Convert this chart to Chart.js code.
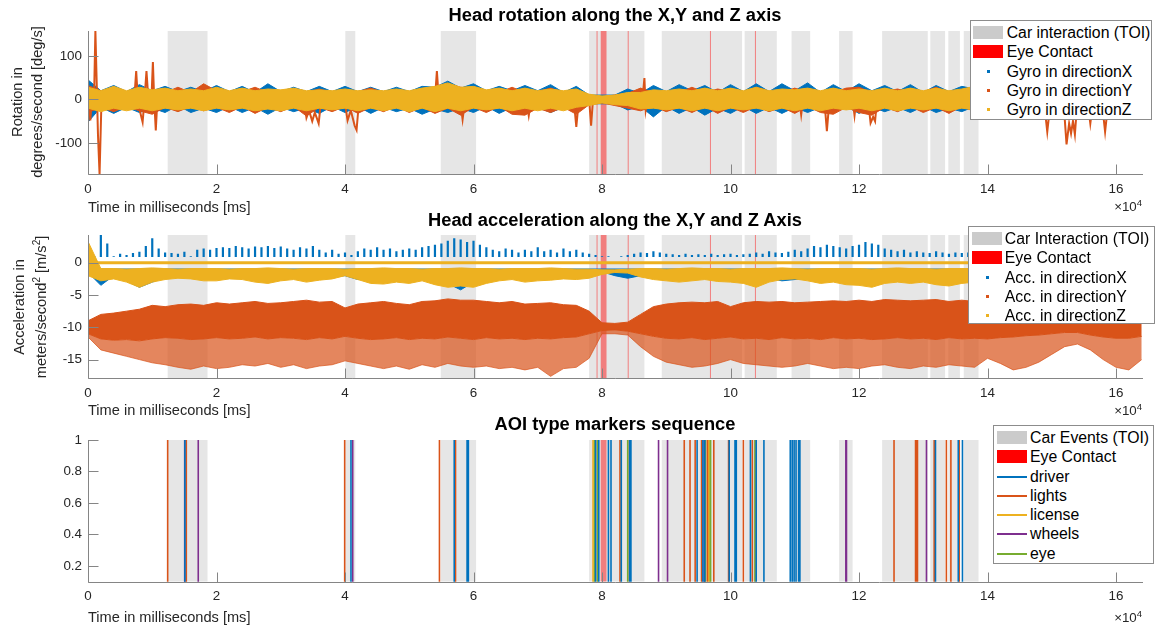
<!DOCTYPE html>
<html>
<head>
<meta charset="utf-8">
<title>Head rotation, acceleration and AOI markers</title>
<script src="https://cdn.jsdelivr.net/npm/chart.js@4.4.1/dist/chart.umd.min.js"></script>
<style>
  body { margin: 0; background: #fff; }
  #page { position: relative; width: 1161px; height: 626px; overflow: hidden; font-family: "Liberation Sans", Arial, Helvetica, sans-serif; color: #262626; }
  canvas { position: absolute; left: 0; }
  .title { position: absolute; left: 615px; transform: translate(-50%, -50%); font-size: 18.3px; font-weight: bold; color: #000; white-space: nowrap; }
  .xlabel { position: absolute; left: 88px; transform: translateY(-50%); font-size: 14.6px; white-space: nowrap; }
  .ylabel { position: absolute; transform: translate(-50%, -50%) rotate(-90deg); font-size: 14.6px; white-space: nowrap; }
  .ylabel sup { font-size: 10px; vertical-align: 6px; line-height: 0; }
  .exp { position: absolute; right: 19px; transform: translateY(-50%); font-size: 13.3px; white-space: nowrap; }
  .exp sup { font-size: 9.5px; vertical-align: 5px; line-height: 0; }
  .legend { position: absolute; background: #fff; border: 1px solid #8c8c8c; box-sizing: border-box; padding-top: 2px; }
  .legend .row { position: relative; height: 19.3px; line-height: 19.3px; font-size: 15.8px; color: #000; white-space: nowrap; }
  .legend .sw { position: absolute; }
</style>
</head>
<body>
<div id="page">
  <canvas id="gyroChart" width="1161" height="205" style="top:0px"></canvas>
  <canvas id="accChart" width="1161" height="205" style="top:205px"></canvas>
  <canvas id="aoiChart" width="1161" height="216" style="top:410px"></canvas>

  <div class="title" style="top:15px">Head rotation along the X,Y and Z axis</div>
  <div class="title" style="top:220px">Head acceleration along the X,Y and Z Axis</div>
  <div class="title" style="top:424px">AOI type markers sequence</div>

  <div class="ylabel" style="left:17px;top:102px">Rotation in</div>
  <div class="ylabel" style="left:37px;top:102px">degrees/second [deg/s]</div>
  <div class="ylabel" style="left:19px;top:307px">Acceleration in</div>
  <div class="ylabel" style="left:41px;top:307px">meters/second<sup>2</sup> [m/s<sup>2</sup>]</div>

  <div class="xlabel" style="top:207px">Time in milliseconds [ms]</div>
  <div class="xlabel" style="top:410px">Time in milliseconds [ms]</div>
  <div class="xlabel" style="top:617px">Time in milliseconds [ms]</div>

  <div class="exp" style="top:206px">&times;10<sup>4</sup></div>
  <div class="exp" style="top:410px">&times;10<sup>4</sup></div>
  <div class="exp" style="top:617px">&times;10<sup>4</sup></div>

  <div class="legend" id="gyroLegend" style="left:970px;top:20px;width:182px;height:100px"></div>
  <div class="legend" id="accLegend" style="left:968px;top:226px;width:187px;height:98px"></div>
  <div class="legend" id="aoiLegend" style="left:993px;top:425px;width:161px;height:139px"></div>
</div>

<script>
// ---- data (time in ms) ----
const timeTicks = [0, 20000, 40000, 60000, 80000, 100000, 120000, 140000, 160000];
const gyroTicks = [-100, 0, 100];
const accTicks = [-15, -10, -5, 0];
const aoiTicks = [0.2, 0.4, 0.6, 0.8, 1];

// Car interaction periods (TOI) and eye contact periods
const toiStart = [12400, 40050, 54900, 78000, 89300, 102200, 109500, 116900, 123600, 131100, 133900, 136300];
const toiEnd   = [18600, 41600, 60400, 86600, 101800, 107200, 112400, 119000, 130700, 133400, 135700, 138600];
const eyeStart = [79150, 79800, 84000, 96800, 103800];
const eyeEnd   = [79250, 80700, 84100, 96900, 103900];

// gyro envelopes, one value every 2000 ms from 0 to 164000 [deg/s]
const gyroXUpper = [45, 20, 32, 18, 34, 20, 30, 18, 28, 18,
  32, 18, 30, 16, 36, 18, 28, 18, 30, 18,
  30, 18, 28, 18, 28, 18, 30, 28, 42, 26,
  36, 20, 30, 20, 32, 20, 34, 16, 30, 10,
  10, 10, 24, 14, 32, 18, 34, 20, 32, 16,
  34, 18, 36, 18, 36, 20, 38, 16, 34, 18,
  36, 20, 32, 18, 34, 16, 32, 18, 30, 24,
  32, 16, 30, 18, 28, 18, 32, 16, 30, 20,
  30, 18, 26];
const gyroXLower = [-52, -18, -32, -18, -30, -20, -30, -14, -30, -20,
  -30, -16, -30, -18, -34, -18, -28, -20, -32, -16,
  -30, -16, -32, -18, -28, -20, -34, -22, -30, -20,
  -30, -16, -32, -18, -34, -18, -30, -18, -28, -10,
  -10, -10, -24, -16, -40, -16, -32, -18, -36, -20,
  -32, -16, -32, -18, -32, -18, -30, -18, -30, -16,
  -32, -18, -28, -18, -30, -16, -30, -20, -28, -16,
  -30, -16, -30, -18, -28, -18, -30, -18, -28, -18,
  -30, -18, -24];
const gyroYUpper = [32, 20, 18, 16, 22, 18, 16, 28, 16, 36,
  20, 16, 18, 28, 16, 18, 20, 16, 24, 16,
  16, 18, 26, 16, 18, 16, 20, 30, 36, 28,
  24, 18, 16, 28, 16, 18, 26, 16, 18, 10,
  6, 10, 14, 26, 16, 18, 16, 28, 16, 24,
  18, 16, 28, 18, 16, 26, 16, 18, 16, 26,
  28, 16, 18, 24, 16, 18, 28, 16, 18, 26,
  16, 18, 26, 16, 18, 24, 16, 18, 26, 16,
  18, 16, 14];
const gyroYLower = [-30, -18, -28, -16, -26, -34, -18, -28, -16, -26,
  -18, -30, -16, -32, -18, -28, -16, -38, -18, -28,
  -16, -32, -18, -28, -16, -30, -18, -32, -20, -36,
  -18, -30, -16, -34, -36, -20, -30, -18, -34, -12,
  -8, -14, -20, -26, -16, -28, -18, -30, -16, -32,
  -18, -30, -16, -28, -18, -32, -16, -30, -34, -18,
  -30, -36, -18, -28, -16, -30, -18, -32, -16, -28,
  -18, -30, -16, -32, -18, -28, -16, -30, -18, -28,
  -16, -28, -18];
const gyroZUpper = [28, 20, 30, 20, 28, 22, 26, 20, 24, 20,
  28, 20, 26, 20, 24, 22, 26, 20, 22, 20,
  24, 20, 22, 20, 24, 20, 26, 30, 38, 28,
  30, 22, 26, 20, 26, 20, 24, 20, 24, 12,
  8, 10, 16, 16, 22, 20, 24, 20, 26, 20,
  26, 20, 28, 20, 24, 22, 26, 20, 26, 20,
  24, 20, 26, 20, 26, 20, 26, 20, 24, 30,
  24, 20, 26, 20, 24, 20, 26, 20, 24, 20,
  24, 20, 20];
const gyroZLower = [-20, -28, -20, -26, -20, -26, -20, -24, -20, -26,
  -20, -24, -20, -26, -22, -26, -20, -26, -20, -24,
  -20, -26, -20, -26, -20, -28, -20, -28, -20, -26,
  -20, -24, -20, -26, -20, -26, -20, -26, -18, -14,
  -8, -12, -14, -22, -20, -24, -20, -26, -20, -26,
  -20, -24, -20, -26, -20, -26, -20, -26, -20, -24,
  -20, -26, -20, -26, -20, -24, -20, -26, -20, -24,
  -20, -24, -20, -26, -20, -26, -20, -26, -20, -24,
  -20, -24, -18];
// sharp peaks of the Y gyro trace (null = gap between bursts)
const gyroYPeakTime = [0, 360, 700, 950, 1150, 1350, 1550, 1800, 2050, 2300, 2500,
  7200, 7500, 7800, 8500, 8800, 9100, 9400, 9900, 10100, 10300, 10550, 10800, 11000,
  33600, 34000, 34400, 34900, 35300, 35900, 36300, 36500,
  39900, 40400, 40900, 41500, 41800, 42200, 42400,
  54000, 54300, 54600, 54800,
  57900, 58300, 58700, 58900,
  68200, 68600, 69000, 69200,
  75600, 76000, 76400, 76600,
  78000, 78300, 78600, 78800,
  86300, 86600, 86800, 87100, 87300,
  110700, 111000, 111300, 111500,
  114600, 115000, 115400, 115600,
  119000, 119300, 119600, 119800,
  121400, 121800, 122200, 122500, 122800, 123000,
  148900, 149300, 149700, 149900,
  151900, 152300, 152700, 153000, 153300, 153600, 153900, 154100,
  155700, 156000, 156300, 156500,
  157900, 158300, 158700];
const gyroYPeakValue = [30, -48, 20, 10, 157, 40, -80, -171, -30, 10, null,
  0, 65, -10, -52, 0, 65, 0, 10, 86, 0, -71, 0, null,
  0, -42, -25, -50, -30, -55, 0, null,
  0, -48, -25, -60, -70, 0, null,
  0, 65, 0, null,
  0, -46, 0, null,
  0, -37, 0, null,
  0, -63, 0, null,
  0, -60, 0, null,
  0, 49, -25, 0, null,
  0, -35, 0, null,
  0, -73, 0, null,
  0, -37, 0, null,
  0, -54, -40, -50, 0, null,
  -20, -74, -20, null,
  -20, -103, -55, -78, -50, -80, -20, null,
  -20, -55, -20, null,
  -20, -74, -20];

// acceleration envelopes, one value every 2000 ms [m/s^2]
const accYUpper = [-9.0, -8.0, -7.8, -7.5, -7.2, -6.6, -6.8, -6.5, -6.4, -6.6,
  -6.2, -6.4, -6.2, -6.0, -6.3, -6.2, -6.0, -5.8, -6.1, -6.0,
  -7.0, -6.4, -6.2, -6.0, -6.3, -6.5, -6.0, -5.9, -5.6, -5.8,
  -5.8, -6.0, -6.2, -6.0, -6.4, -6.3, -6.2, -6.5, -6.6, -7.5,
  -9.3, -9.4, -9.2, -8.0, -6.8, -6.4, -6.2, -6.1, -6.2, -6.0,
  -6.8, -6.2, -6.0, -6.1, -6.0, -6.2, -6.1, -6.0, -5.9, -6.0,
  -5.8, -6.0, -5.7, -5.8, -5.9, -5.8, -5.7, -6.0, -5.8, -6.0,
  -6.2, -6.0, -6.1, -6.3, -6.0, -6.2, -6.0, -6.1, -6.2, -6.0,
  -6.3, -6.5, -7.0];
const accYDenseLower = [-11.0, -11.8, -12.0, -11.9, -12.1, -11.8, -11.6, -11.7, -11.9, -11.8,
  -11.6, -11.8, -11.7, -11.5, -11.8, -11.6, -11.7, -11.9, -11.6, -11.8,
  -11.4, -11.7, -11.9, -11.8, -11.6, -11.9, -11.7, -11.8, -11.5, -11.7,
  -11.9, -11.6, -11.8, -11.7, -11.9, -11.7, -11.8, -11.6, -11.5, -11.0,
  -10.5, -10.4, -10.6, -11.0, -11.4, -11.7, -11.8, -11.6, -11.9, -11.7,
  -11.5, -11.8, -11.7, -11.9, -11.6, -11.8, -11.7, -11.9, -11.6, -11.8,
  -11.7, -11.9, -11.8, -11.6, -11.8, -11.7, -11.9, -11.6, -11.8, -11.7,
  -11.8, -11.6, -11.5, -11.3, -11.2, -11.0, -10.8, -10.8, -11.2, -11.5,
  -11.7, -11.7, -11.4];
const accYSparseLower = [-11.5, -13.5, -14.0, -14.5, -15.0, -15.5, -15.8, -16.2, -16.5, -16.0,
  -16.4, -16.2, -15.8, -16.0, -15.6, -16.2, -15.8, -16.4, -16.0, -15.8,
  -15.2, -15.6, -16.0, -16.4, -16.0, -16.5, -15.8, -16.2, -15.6, -16.0,
  -16.2, -16.0, -16.4, -16.2, -16.6, -16.2, -17.6, -16.4, -16.2, -14.8,
  -11.0, -11.0, -11.2, -13.0, -14.5, -15.4, -15.8, -16.2, -16.0, -15.6,
  -15.0, -15.6, -15.8, -16.0, -16.2, -16.0, -15.6, -16.0, -16.4, -16.2,
  -16.4, -16.0, -15.8, -16.2, -16.4, -16.0, -16.2, -15.8, -16.0, -16.2,
  -14.8, -15.6, -16.6, -16.2, -15.4, -14.2, -13.0, -12.6, -13.5, -15.0,
  -16.2, -16.6, -15.0];
const accZUpper = [3.3, -0.9, -0.9, -1.0, -0.9, -0.8, -0.9, -1.0, -0.9, -0.9,
  -0.9, -1.0, -0.9, -0.9, -0.8, -0.9, -1.0, -0.9, -0.9, -0.9,
  -1.0, -0.9, -0.9, -0.8, -0.9, -0.9, -1.0, -0.9, -0.9, -0.8,
  -0.9, -0.9, -1.0, -0.9, -0.9, -0.9, -0.8, -0.9, -1.0, -1.0,
  -1.1, -1.1, -1.0, -0.9, -0.9, -1.0, -0.9, -0.8, -0.9, -0.9,
  -1.0, -0.9, -0.9, -0.9, -0.8, -0.9, -1.0, -0.9, -0.9, -0.9,
  -0.9, -1.0, -0.9, -0.8, -0.9, -0.9, -1.0, -0.9, -0.9, -0.9,
  -0.9, -0.9, -1.0, -0.9, -0.9, -0.8, -0.9, -0.9, -1.0, -0.9,
  -0.9, -0.9, -1.0];
const accZLower = [-2.0, -2.8, -2.5, -3.0, -3.8, -3.0, -2.6, -2.4, -2.5, -2.8,
  -2.8, -2.5, -2.6, -3.0, -3.2, -2.8, -2.6, -3.0, -2.7, -2.5,
  -2.0, -2.6, -3.2, -3.3, -3.0, -3.2, -2.8, -3.4, -3.8, -3.6,
  -3.8, -3.2, -2.8, -2.6, -3.0, -2.8, -2.7, -2.5, -2.6, -2.4,
  -1.8, -1.5, -1.6, -2.2, -2.6, -2.8, -3.0, -2.8, -2.6, -2.9,
  -3.0, -3.2, -3.8, -3.0, -2.6, -2.5, -2.8, -3.2, -3.0, -3.4,
  -3.5, -3.8, -3.2, -3.0, -3.2, -3.0, -3.4, -3.6, -3.2, -3.0,
  -3.0, -2.8, -3.2, -3.0, -2.8, -3.0, -3.2, -3.0, -2.8, -3.0,
  -3.0, -2.8, -2.6];
const accXLower = [-1.5, -3.5, -2.0, -2.8, -3.8, -3.0, -2.2, -2.0, -2.0, -2.2,
  -2.4, -2.0, -2.0, -2.2, -2.0, -2.4, -2.2, -2.5, -2.0, -2.2,
  -2.0, -2.6, -2.6, -2.4, -2.2, -2.5, -2.6, -3.0, -3.2, -4.2,
  -3.0, -2.6, -2.4, -2.2, -2.6, -2.4, -2.2, -2.0, -2.2, -2.0,
  -1.4, -2.0, -2.4, -2.0, -2.2, -2.6, -2.4, -2.6, -2.2, -2.4,
  -2.2, -2.8, -2.6, -2.4, -2.8, -2.6, -2.4, -2.2, -2.5, -2.8,
  -2.6, -2.4, -2.8, -2.6, -2.8, -2.6, -2.8, -3.2, -2.8, -2.6,
  -2.6, -2.4, -2.6, -2.8, -2.4, -2.6, -2.4, -2.6, -2.8, -2.6,
  -2.4, -2.6, -2.4];
// X acceleration columns, one every 1000 ms, from a floor of 0.9 up to the peak
const accXColumnFloor = 0.9;
const accXPeaks = [0.9, 1.0, 4.3, 3.0, 1.0, 1.4, 1.2, 1.5, 1.7, 2.6, 3.8, 2.2, 1.6, 1.5, 1.4, 1.7, 1.0, 2.0, 2.2, 2.0,
  2.3, 2.4, 2.3, 2.6, 2.4, 2.2, 2.5, 2.4, 2.6, 2.3, 2.5, 2.2, 2.0, 2.4, 2.2, 2.6, 2.0, 1.6, 2.0, 1.4,
  1.6, 1.2, 1.8, 2.2, 2.0, 2.4, 2.0, 2.2, 1.8, 2.0, 2.2, 2.0, 2.4, 2.6, 2.8, 3.0, 3.4, 3.8, 3.6, 3.2,
  3.4, 2.8, 2.4, 2.0, 1.8, 2.2, 2.0, 1.6, 2.0, 1.8, 2.4, 1.8, 2.0, 1.6, 2.2, 1.8, 2.0, 1.6, 1.4, 1.2,
  1.0, 1.0, 0.9, 1.0, 1.2, 1.4, 1.6, 1.5, 1.8, 1.6, 1.4, 1.3, 1.2, 1.4, 1.2, 1.3, 1.2, 1.4, 1.2, 1.3,
  1.4, 1.2, 1.3, 1.4, 1.6, 1.4, 1.8, 1.6, 1.5, 1.7, 2.0, 1.8, 2.2, 2.6, 2.4, 2.8, 2.6, 2.4, 2.2, 2.6,
  2.8, 3.2, 3.0, 2.8, 2.2, 2.0, 1.8, 2.0, 1.6, 1.8, 1.6, 1.5, 1.8, 1.6, 1.4, 1.6, 1.5, 1.6, 1.4, 1.5,
  1.6, 1.8, 1.5, 1.7, 1.6, 2.0, 1.8, 1.6, 1.5, 1.7, 1.8, 1.6, 1.9, 1.7, 1.5, 1.6, 1.8, 1.7, 1.6, 1.5,
  1.7, 1.6, 1.8, 1.5, 1.6];
// resting output of the Z accelerometer
const accRestTime = [0, 164200];
const accZRest = [0, 0];

// AOI markers (value 1 at each marker time)
const aoiMarkerValue = 1;
const aoiDriver = [15080, 40930, 57000, 59000, 59200, 79000, 79500, 81000, 81400, 83000, 84300, 84500,
  94800, 95700, 96000, 99800, 100700, 100900, 103100, 104000, 105200,
  109300, 109600, 109900, 110200, 110600, 110800, 131900, 135450, 136100];
const aoiLights = [12400, 15300, 39950, 54700, 57200, 82800, 92800, 93700, 94500, 95500, 96400, 97400,
  99700, 102000, 103400, 125450, 128800, 128950, 129100, 131700, 133600, 134300, 135600];
const aoiLicense = [78600, 96600];
const aoiWheels = [15050, 17160, 41200, 88800, 90200, 95900, 117950, 118050, 130500];
const aoiEye = [78800, 79300, 84000, 96100, 96800, 96900, 103800];

// ---- style ----
const TIME_MAX = 164200;
const BAND_STEP_MS = 2000;
const COLUMN_STEP_MS = 1000;
const COLOR_X = '#0072BD';
const COLOR_Y = '#D95319';
const COLOR_Z = '#EDB120';
const COLOR_WHEELS = '#7E2F8E';
const COLOR_EYE = '#77AC30';
const TOI_FILL = '#E6E6E6';
const TOI_SWATCH = '#CBCBCB';
const EYE_FILL = 'rgba(255, 0, 0, 0.45)';
const AXIS_COLOR = '#858585';
const TICK_LEN = 10;

Chart.defaults.font.family = '"Liberation Sans", Arial, Helvetica, sans-serif';
Chart.defaults.color = '#262626';

const bandTime = gyroZUpper.map((v, k) => k * BAND_STEP_MS);
const columnTime = accXPeaks.map((v, k) => k * COLUMN_STEP_MS);

function toPoints(times, values) {
    return times.map((t, i) => ({ x: t, y: values[i] }));
}

function stems(times, base, tops) {
    const pts = [];
    times.forEach((t, i) => {
        const top = Array.isArray(tops) ? tops[i] : tops;
        pts.push({ x: t, y: base }, { x: t, y: top }, { x: t, y: null });
    });
    return pts;
}

function band(upper, lower, color, order) {
    return [
        { data: toPoints(bandTime, upper), borderColor: color, borderWidth: 1, pointRadius: 0, fill: false, order: order },
        { data: toPoints(bandTime, lower), borderColor: color, backgroundColor: color, borderWidth: 1, pointRadius: 0, fill: '-1', order: order }
    ];
}

// grey TOI periods and red eye contact periods behind the data
const periodsPlugin = {
    id: 'periods',
    beforeDatasetsDraw(chart) {
        const { ctx, chartArea: a, scales: { x } } = chart;
        ctx.save();
        ctx.beginPath();
        ctx.rect(a.left, a.top, a.right - a.left, a.bottom - a.top);
        ctx.clip();
        ctx.fillStyle = TOI_FILL;
        toiStart.forEach((s, i) => {
            const x0 = x.getPixelForValue(s);
            ctx.fillRect(x0, a.top, x.getPixelForValue(toiEnd[i]) - x0, a.bottom - a.top);
        });
        ctx.fillStyle = EYE_FILL;
        eyeStart.forEach((s, i) => {
            const x0 = x.getPixelForValue(s);
            const w = Math.max(1, x.getPixelForValue(eyeEnd[i]) - x0);
            ctx.fillRect(x0, a.top, w, a.bottom - a.top);
        });
        ctx.restore();
    }
};

// MATLAB style axes: left and bottom lines with inward ticks
const axesPlugin = {
    id: 'matlabAxes',
    afterDatasetsDraw(chart) {
        const { ctx, chartArea: a, scales: { x, y } } = chart;
        const L = Math.round(a.left) + 0.5;
        const B = Math.round(a.bottom) + 0.5;
        ctx.save();
        ctx.strokeStyle = AXIS_COLOR;
        ctx.lineWidth = 1;
        ctx.beginPath();
        ctx.moveTo(L, a.top);
        ctx.lineTo(L, B);
        ctx.lineTo(a.right, B);
        x.ticks.forEach(t => {
            const px = Math.round(x.getPixelForValue(t.value)) + 0.5;
            ctx.moveTo(px, B);
            ctx.lineTo(px, B - TICK_LEN);
        });
        y.ticks.forEach(t => {
            const py = Math.round(y.getPixelForValue(t.value)) + 0.5;
            ctx.moveTo(L, py);
            ctx.lineTo(L + TICK_LEN, py);
        });
        ctx.stroke();
        ctx.restore();
    }
};

function makeChart(id, panel, datasets) {
    const canvas = document.getElementById(id);
    return new Chart(canvas, {
        type: 'line',
        data: { datasets: datasets },
        options: {
            responsive: false,
            animation: false,
            events: [],
            layout: { padding: { left: 0, right: 18, top: panel.top, bottom: canvas.height - panel.bottom - 24 } },
            plugins: { legend: { display: false }, tooltip: { enabled: false }, title: { display: false } },
            scales: {
                x: {
                    type: 'linear', min: 0, max: TIME_MAX,
                    grid: { display: false, drawTicks: false },
                    border: { display: false },
                    ticks: { autoSkip: false, maxRotation: 0, padding: 7, font: { size: 13.4 }, callback: v => String(v / 10000) },
                    afterBuildTicks: s => { s.ticks = timeTicks.map(v => ({ value: v })); },
                    afterFit: s => { s.height = 24; }
                },
                y: {
                    type: 'linear', min: panel.yMin, max: panel.yMax,
                    grid: { display: false, drawTicks: false },
                    border: { display: false },
                    ticks: { autoSkip: false, padding: 6, font: { size: 13.4 }, callback: v => String(v) },
                    afterBuildTicks: s => { s.ticks = panel.yTicks.map(v => ({ value: v })); },
                    afterFit: s => { s.width = 88; }
                }
            }
        },
        plugins: [periodsPlugin, axesPlugin]
    });
}

function buildLegend(id, items, geom) {
    const box = document.getElementById(id);
    items.forEach(item => {
        const row = document.createElement('div');
        row.className = 'row';
        row.style.paddingLeft = geom.textLeft + 'px';
        const sw = document.createElement('span');
        sw.className = 'sw';
        sw.style.background = item.color;
        if (item.kind === 'patch') {
            sw.style.left = geom.swLeft + 'px'; sw.style.width = '30px'; sw.style.top = '3px'; sw.style.height = '13px';
        } else if (item.kind === 'dot') {
            sw.style.left = (geom.swLeft + 14) + 'px'; sw.style.width = '3px'; sw.style.top = '8px'; sw.style.height = '3px';
        } else {
            sw.style.left = geom.swLeft + 'px'; sw.style.width = '30px'; sw.style.top = '9px'; sw.style.height = '2px';
        }
        row.appendChild(sw);
        row.appendChild(document.createTextNode(item.text));
        box.appendChild(row);
    });
}

// ---- head rotation ----
makeChart('gyroChart', { top: 31, bottom: 174, yMin: -171, yMax: 157, yTicks: gyroTicks }, [
    ...band(gyroZUpper, gyroZLower, COLOR_Z, 1),
    { data: toPoints(gyroYPeakTime, gyroYPeakValue), borderColor: COLOR_Y, borderWidth: 2, pointRadius: 0, fill: false, order: 2 },
    ...band(gyroYUpper, gyroYLower, COLOR_Y, 3),
    ...band(gyroXUpper, gyroXLower, COLOR_X, 4)
]);

// ---- head acceleration ----
makeChart('accChart', { top: 30, bottom: 173.3, yMin: -17.9, yMax: 4.3, yTicks: accTicks }, [
    { data: toPoints(accRestTime, accZRest), borderColor: COLOR_Z, borderWidth: 3, pointRadius: 0, fill: false, order: 0 },
    ...band(accZUpper, accZLower, COLOR_Z, 1),
    { data: stems(columnTime, accXColumnFloor, accXPeaks), borderColor: COLOR_X, borderWidth: 2.2, pointRadius: 0, fill: false, order: 2 },
    { data: toPoints(bandTime, accXLower), borderColor: COLOR_X, backgroundColor: COLOR_X, borderWidth: 1, pointRadius: 0, fill: { value: -0.9 }, order: 3 },
    { data: toPoints(bandTime, accYUpper), borderColor: COLOR_Y, borderWidth: 1, pointRadius: 0, fill: false, order: 4 },
    { data: toPoints(bandTime, accYDenseLower), borderColor: COLOR_Y, backgroundColor: COLOR_Y, borderWidth: 1, pointRadius: 0, fill: '-1', order: 4 },
    { data: toPoints(bandTime, accYSparseLower), borderColor: 'rgba(217, 83, 25, 0.7)', backgroundColor: 'rgba(217, 83, 25, 0.7)', borderWidth: 1, pointRadius: 0, fill: '-1', order: 4 }
]);

// ---- AOI markers ----
const aoiSeries = [
    { times: aoiDriver, color: COLOR_X },
    { times: aoiLights, color: COLOR_Y },
    { times: aoiLicense, color: COLOR_Z },
    { times: aoiWheels, color: COLOR_WHEELS },
    { times: aoiEye, color: COLOR_EYE }
];
makeChart('aoiChart', { top: 30, bottom: 171.7, yMin: 0.1, yMax: 1, yTicks: aoiTicks },
    aoiSeries.map(s => ({ data: stems(s.times, 0, aoiMarkerValue), borderColor: s.color, borderWidth: 1.6, pointRadius: 0, fill: false })));

// ---- legends ----
buildLegend('gyroLegend', [
    { kind: 'patch', color: TOI_SWATCH, text: 'Car interaction (TOI)' },
    { kind: 'patch', color: '#FF0000', text: 'Eye Contact' },
    { kind: 'dot', color: COLOR_X, text: 'Gyro in directionX' },
    { kind: 'dot', color: COLOR_Y, text: 'Gyro in directionY' },
    { kind: 'dot', color: COLOR_Z, text: 'Gyro in directionZ' }
], { swLeft: 2, textLeft: 35.7 });
buildLegend('accLegend', [
    { kind: 'patch', color: TOI_SWATCH, text: 'Car Interaction (TOI)' },
    { kind: 'patch', color: '#FF0000', text: 'Eye Contact' },
    { kind: 'dot', color: COLOR_X, text: 'Acc. in directionX' },
    { kind: 'dot', color: COLOR_Y, text: 'Acc. in directionY' },
    { kind: 'dot', color: COLOR_Z, text: 'Acc. in directionZ' }
], { swLeft: 2.5, textLeft: 35.8 });
buildLegend('aoiLegend', [
    { kind: 'patch', color: TOI_SWATCH, text: 'Car Events (TOI)' },
    { kind: 'patch', color: '#FF0000', text: 'Eye Contact' },
    { kind: 'line', color: COLOR_X, text: 'driver' },
    { kind: 'line', color: COLOR_Y, text: 'lights' },
    { kind: 'line', color: COLOR_Z, text: 'license' },
    { kind: 'line', color: COLOR_WHEELS, text: 'wheels' },
    { kind: 'line', color: COLOR_EYE, text: 'eye' }
], { swLeft: 3.3, textLeft: 36 });
</script>
</body>
</html>
